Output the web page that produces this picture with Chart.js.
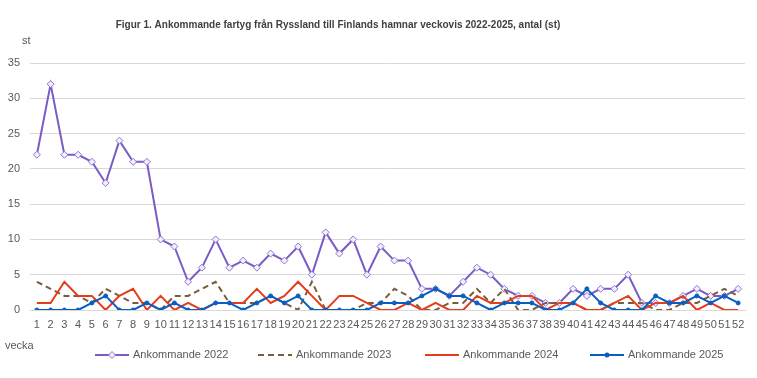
<!DOCTYPE html>
<html>
<head>
<meta charset="utf-8">
<script src="https://cdn.jsdelivr.net/npm/chart.js@4/dist/chart.umd.min.js"></script>
<style>
  html, body { margin: 0; padding: 0; background: #fff; }
  #wrap { width: 757px; height: 378px; }
</style>
</head>
<body>
<div id="wrap"><canvas id="chart"></canvas></div>
<script>
const veckor = Array.from({ length: 52 }, (_, i) => String(i + 1));

const ank2022 = [22, 32, 22, 22, 21, 18, 24, 21, 21, 10, 9, 4, 6, 10, 6, 7, 6, 8, 7, 9, 5, 11, 8, 10, 5, 9,
                 7, 7, 3, 3, 2, 4, 6, 5, 3, 2, 2, 1, 1, 3, 2, 3, 3, 5, 1, 1, 1, 2, 3, 2, 2, 3];
const ank2023 = [4, 3, 2, 2, 1, 3, 2, 1, 1, 0, 2, 2, 3, 4, 1, 1, 1, 2, 1, 0, 4, 0, 0, 0, 1, 1,
                 3, 2, 0, 0, 1, 1, 3, 1, 3, 0, 0, 1, 1, 1, 0, 0, 1, 1, 1, 0, 0, 1, 1, 2, 3, 2];
const ank2024 = [1, 1, 4, 2, 2, 0, 2, 3, 0, 2, 0, 1, 0, 1, 1, 1, 3, 1, 2, 4, 2, 0, 2, 2, 1, 0,
                 0, 1, 0, 1, 0, 0, 2, 1, 1, 2, 2, 0, 1, 1, 0, 0, 1, 2, 0, 1, 1, 2, 0, 1, 0, 0];
const ank2025 = [0, 0, 0, 0, 1, 2, 0, 0, 1, 0, 1, 0, 0, 1, 1, 0, 1, 2, 1, 2, 0, 0, 0, 0, 0, 1,
                 1, 1, 2, 3, 2, 2, 1, 0, 1, 1, 1, 0, 0, 1, 3, 1, 0, 0, 0, 2, 1, 1, 2, 1, 2, 1];

const yTicks = [0, 5, 10, 15, 20, 25, 30, 35];

const titel = "Figur 1. Ankommande fartyg från Ryssland till Finlands hamnar veckovis 2022-2025, antal (st)";

const FONT = "'Liberation Sans', Arial, sans-serif";
const TEXT = "#595959";

// title, legend and axis captions, drawn like the Excel original
const extras = {
  id: "extras",
  afterDraw(chart) {
    const ctx = chart.ctx;
    ctx.save();
    ctx.textBaseline = "middle";
    ctx.textAlign = "center";
    ctx.fillStyle = "#404040";
    ctx.font = "bold 10px " + FONT;
    ctx.fillText(titel, 338, 25);

    ctx.textAlign = "left";
    ctx.fillStyle = TEXT;
    ctx.font = "11px " + FONT;
    ctx.fillText("st", 22, 41);
    ctx.fillText("vecka", 5, 346);

    const starts = [95, 258, 425, 590];
    chart.data.datasets.forEach((ds, i) => {
      const x = starts[i], y = 355;
      ctx.strokeStyle = ds.borderColor;
      ctx.lineWidth = 2;
      ctx.setLineDash(ds.borderDash || []);
      ctx.beginPath();
      ctx.moveTo(x, y);
      ctx.lineTo(x + 34, y);
      ctx.stroke();
      ctx.setLineDash([]);
      if (ds.pointRadius > 0) {
        const cx = x + 17;
        ctx.beginPath();
        if (ds.pointStyle === "rectRot") {
          ctx.moveTo(cx, y - 3.5); ctx.lineTo(cx + 3.5, y);
          ctx.lineTo(cx, y + 3.5); ctx.lineTo(cx - 3.5, y);
          ctx.closePath();
          ctx.fillStyle = ds.pointBackgroundColor;
          ctx.fill();
          ctx.strokeStyle = ds.pointBorderColor;
          ctx.lineWidth = 1;
          ctx.stroke();
        } else {
          ctx.arc(cx, y, 2.5, 0, Math.PI * 2);
          ctx.fillStyle = ds.borderColor;
          ctx.fill();
        }
      }
      ctx.fillStyle = TEXT;
      ctx.fillText(ds.label, x + 38, y);
    });
    ctx.restore();
  }
};

new Chart(document.getElementById("chart"), {
  type: "line",
  data: {
    labels: veckor,
    datasets: [
      {
        label: "Ankommande 2022",
        data: ank2022,
        borderColor: "#7B5BC6",
        borderWidth: 2,
        pointStyle: "rectRot",
        pointRadius: 3.5,
        pointBorderWidth: 1,
        pointBackgroundColor: "#F2EEFB",
        pointBorderColor: "#8E74D4",
        order: 4
      },
      {
        label: "Ankommande 2023",
        data: ank2023,
        borderColor: "#7A5C3A",
        borderWidth: 2,
        borderDash: [6, 4],
        pointRadius: 0,
        order: 3
      },
      {
        label: "Ankommande 2024",
        data: ank2024,
        borderColor: "#E43D1C",
        borderWidth: 2,
        pointRadius: 0,
        order: 2
      },
      {
        label: "Ankommande 2025",
        data: ank2025,
        borderColor: "#0A5EC0",
        borderWidth: 2,
        pointStyle: "circle",
        pointRadius: 2,
        pointBorderWidth: 1,
        pointBackgroundColor: "#0A5EC0",
        pointBorderColor: "#0A5EC0",
        order: 1
      }
    ]
  },
  options: {
    responsive: true,
    maintainAspectRatio: false,
    animation: false,
    elements: { line: { tension: 0 } },
    layout: { padding: { left: 5, right: 12, top: 63, bottom: 0 } },
    plugins: {
      legend: { display: false },
      tooltip: { enabled: false },
      title: { display: false }
    },
    scales: {
      x: {
        offset: true,
        grid: { display: false, drawTicks: false },
        border: { display: true, color: "#D9D9D9" },
        ticks: {
          color: TEXT,
          font: { family: FONT, size: 11 },
          autoSkip: false,
          maxRotation: 0,
          padding: 8
        },
        afterFit(scale) { scale.height = 68; }
      },
      y: {
        min: 0,
        max: 35,
        afterBuildTicks(scale) { scale.ticks = yTicks.map(v => ({ value: v })); },
        grid: { color: "#D9D9D9", drawTicks: false },
        border: { display: false },
        ticks: {
          color: TEXT,
          font: { family: FONT, size: 11 },
          padding: 10
        },
        afterFit(scale) { scale.width = 25; }
      }
    }
  },
  plugins: [extras]
});
</script>
</body>
</html>
